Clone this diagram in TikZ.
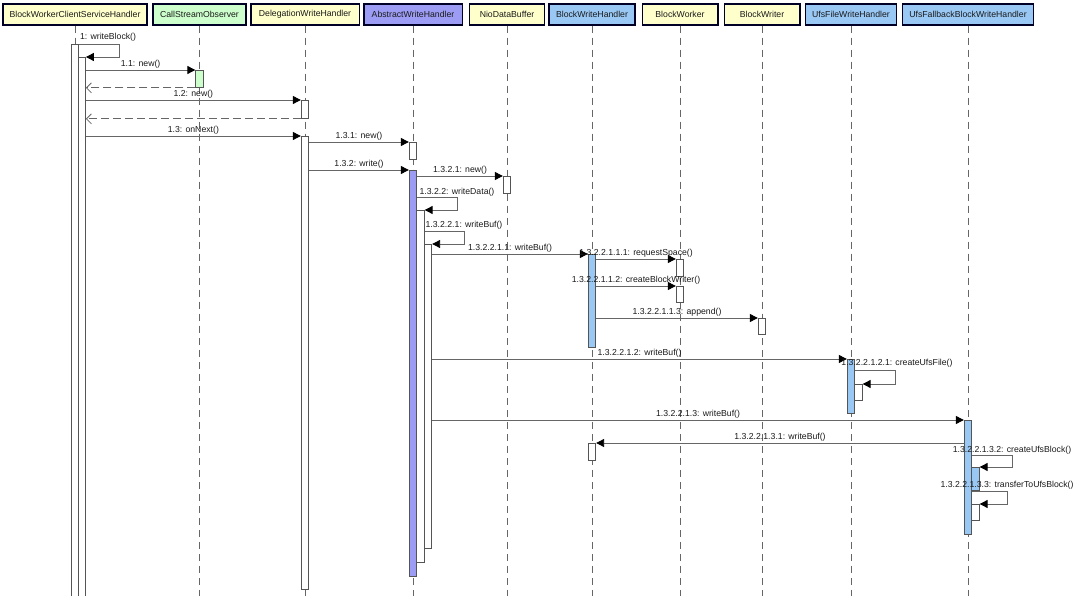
\documentclass[tikz,border=0pt]{standalone}
\usepackage{fontspec}
\setmainfont{Liberation Sans}
\usetikzlibrary{arrows.meta}
\definecolor{hyel}{HTML}{FFFFCC}
\definecolor{hgrn}{HTML}{CCFFCC}
\definecolor{hpur}{HTML}{9C9CF5}
\definecolor{hblu}{HTML}{99C8F5}
\definecolor{lgray}{HTML}{666666}
\definecolor{agray}{HTML}{555555}
\definecolor{txt}{HTML}{1A1A1A}
\begin{document}
\begin{tikzpicture}[x=1pt,y=-1pt,
  font=\fontsize{8.7}{10}\selectfont,
  hdr/.style={draw=black!85!blue, line width=1.5pt, minimum height=21pt, inner sep=0pt, text=txt, anchor=center},
  life/.style={draw=lgray, line width=0.8pt, dash pattern=on 7.5pt off 4.5pt},
  actbar/.style={draw=agray, line width=0.8pt, fill=white, inner sep=0pt, minimum width=7.5pt, anchor=north},
  msg/.style={draw=lgray, line width=0.9pt, -{Triangle[length=8pt,width=8pt,color=black]}},
  ret/.style={draw=lgray, line width=0.8pt, dash pattern=on 8pt off 4pt, -{Straight Barb[length=5pt,width=10pt]}},
  lbl/.style={text=txt, inner sep=1pt, above},
  slbl/.style={text=txt, inner sep=0pt, anchor=base}
]
\useasboundingbox (0,0) rectangle (1080,596);
\coordinate (bot) at (0,598);

% headers
\node[hdr, fill=hyel, minimum width=144pt]   (h1)  at (75,14.5)   {BlockWorkerClientServiceHandler};
\node[hdr, fill=hgrn, minimum width=93pt]    (h2)  at (199.5,14.5) {CallStreamObserver};
\node[hdr, fill=hyel, minimum width=108.5pt] (h3)  at (305,14.5)  {DelegationWriteHandler};
\node[hdr, fill=hpur, minimum width=98.5pt]  (h4)  at (413,14.5)  {AbstractWriteHandler};
\node[hdr, fill=hyel, minimum width=75pt]    (h5)  at (507,14.5)  {NioDataBuffer};
\node[hdr, fill=hblu, minimum width=86pt]    (h6)  at (592,14.5)  {BlockWriteHandler};
\node[hdr, fill=hyel, minimum width=75.5pt]  (h7)  at (680,14.5)  {BlockWorker};
\node[hdr, fill=hyel, minimum width=75.5pt]  (h8)  at (762,14.5)  {BlockWriter};
\node[hdr, fill=hblu, minimum width=91pt]    (h9)  at (851,14.5)  {UfsFileWriteHandler};
\node[hdr, fill=hblu, minimum width=131pt]   (h10) at (968,14.5)  {UfsFallbackBlockWriteHandler};

% lifelines
\foreach \h in {h1,h2,h3,h4,h5,h6,h7,h8,h9,h10}
  \draw[life] (\h.south) -- (\h.south |- bot);

% activation bars
\node[actbar, minimum width=7pt, minimum height=556pt] (A1) at (75,44) {};
\node[actbar, minimum width=7pt, minimum height=543pt] (A2) at (82,57) {};
\node[actbar, fill=hgrn, minimum height=17pt] (C1) at (199.5,70) {};
\node[actbar, minimum height=18pt]  (D1) at (305,100) {};
\node[actbar, minimum height=453pt] (D2) at (305,136) {};
\node[actbar, minimum height=17pt]  (W1) at (413,142) {};
\node[actbar, fill=hpur, minimum height=406pt] (W2) at (413,170) {};
\node[actbar, minimum height=352pt] (W3) at (420.5,210) {};
\node[actbar, minimum height=304pt] (W4) at (428,244) {};
\node[actbar, minimum height=17pt]  (N1) at (507,176) {};
\node[actbar, fill=hblu, minimum height=93pt] (B1) at (592,254) {};
\node[actbar, minimum height=17pt]  (B2) at (592,443) {};
\node[actbar, minimum height=17pt]  (K1) at (680,259) {};
\node[actbar, minimum height=16pt]  (K2) at (680,286) {};
\node[actbar, minimum height=16pt]  (R1) at (762,318) {};
\node[actbar, fill=hblu, minimum height=54pt] (U1) at (851,359) {};
\node[actbar, minimum height=16pt]  (U2) at (858.5,384) {};
\node[actbar, fill=hblu, minimum height=114pt] (F1) at (968,420) {};
\node[actbar, fill=hblu, minimum height=23pt]  (F2) at (975.5,467) {};
\node[actbar, minimum height=16pt]  (F3) at (975.5,504) {};

% self-call corners
\coordinate (wbl) at (119,44);
\coordinate (wd)  at (457,197);
\coordinate (wb)  at (464,231);
\coordinate (cuf) at (895,370);
\coordinate (cub) at (1012,455);
\coordinate (tub) at (1007,491);

% messages
\draw[msg] (A1.north east) -- (wbl) |- (A2.north east);
\node[slbl, anchor=base west] (l1) at ([shift={(1pt,4pt)}]A1.north east) {1: writeBlock()};

\draw[msg] (A2.east |- C1.north) -- node[lbl] {1.1: new()} (C1.north west);
\draw[ret] (C1.south west) -- (A2.east |- C1.south);
\draw[msg] (A2.east |- D1.north) -- node[lbl] {1.2: new()} (D1.north west);
\draw[ret] (D1.south west) -- (A2.east |- D1.south);
\draw[msg] (A2.east |- D2.north) -- node[lbl] {1.3: onNext()} (D2.north west);

\draw[msg] (D2.east |- W1.north) -- node[lbl] {1.3.1: new()} (W1.north west);
\draw[msg] (D2.east |- W2.north) -- node[lbl] {1.3.2: write()} (W2.north west);
\draw[msg] (W2.east |- N1.north) -- node[lbl] {1.3.2.1: new()} (N1.north west);

\draw[msg] (W2.east |- wd) -- (wd) |- (W3.north east);
\node[slbl] (lwd) at ([yshift=2pt]wd) {1.3.2.2: writeData()};
\draw[msg] (W3.east |- wb) -- (wb) |- (W4.north east);
\node[slbl] (lwb) at ([yshift=3pt]wb) {1.3.2.2.1: writeBuf()};

\draw[msg] (W4.east |- B1.north) -- node[lbl] {1.3.2.2.1.1: writeBuf()} (B1.north west);
\draw[msg] (B1.east |- K1.north) -- node[lbl] {1.3.2.2.1.1.1: requestSpace()} (K1.north west);
\draw[msg] (B1.east |- K2.north) -- node[lbl] {1.3.2.2.1.1.2: createBlockWriter()} (K2.north west);
\draw[msg] (B1.east |- R1.north) -- node[lbl] {1.3.2.2.1.1.3: append()} (R1.north west);

\draw[msg] (W4.east |- U1.north) -- node[lbl] {1.3.2.2.1.2: writeBuf()} (U1.north west);
\draw[msg] (U1.east |- cuf) -- (cuf) |- (U2.north east);
\node[slbl] (lcuf) at ([shift={(2pt,4pt)}]cuf) {1.3.2.2.1.2.1: createUfsFile()};

\draw[msg] (W4.east |- F1.north) -- node[lbl] {1.3.2.2.1.3: writeBuf()} (F1.north west);
\draw[msg] (F1.west |- B2.north) -- node[lbl] {1.3.2.2.1.3.1: writeBuf()} (B2.north east);
\draw[msg] (F1.east |- cub) -- (cub) |- (F2.north east);
\node[slbl] (lcub) at ([yshift=3pt]cub) {1.3.2.2.1.3.2: createUfsBlock()};
\draw[msg] (F1.east |- tub) -- (tub) |- (F3.north east);
\node[slbl] (ltub) at ([yshift=4pt]tub) {1.3.2.2.1.3.3: transferToUfsBlock()};
\end{tikzpicture}
\end{document}
